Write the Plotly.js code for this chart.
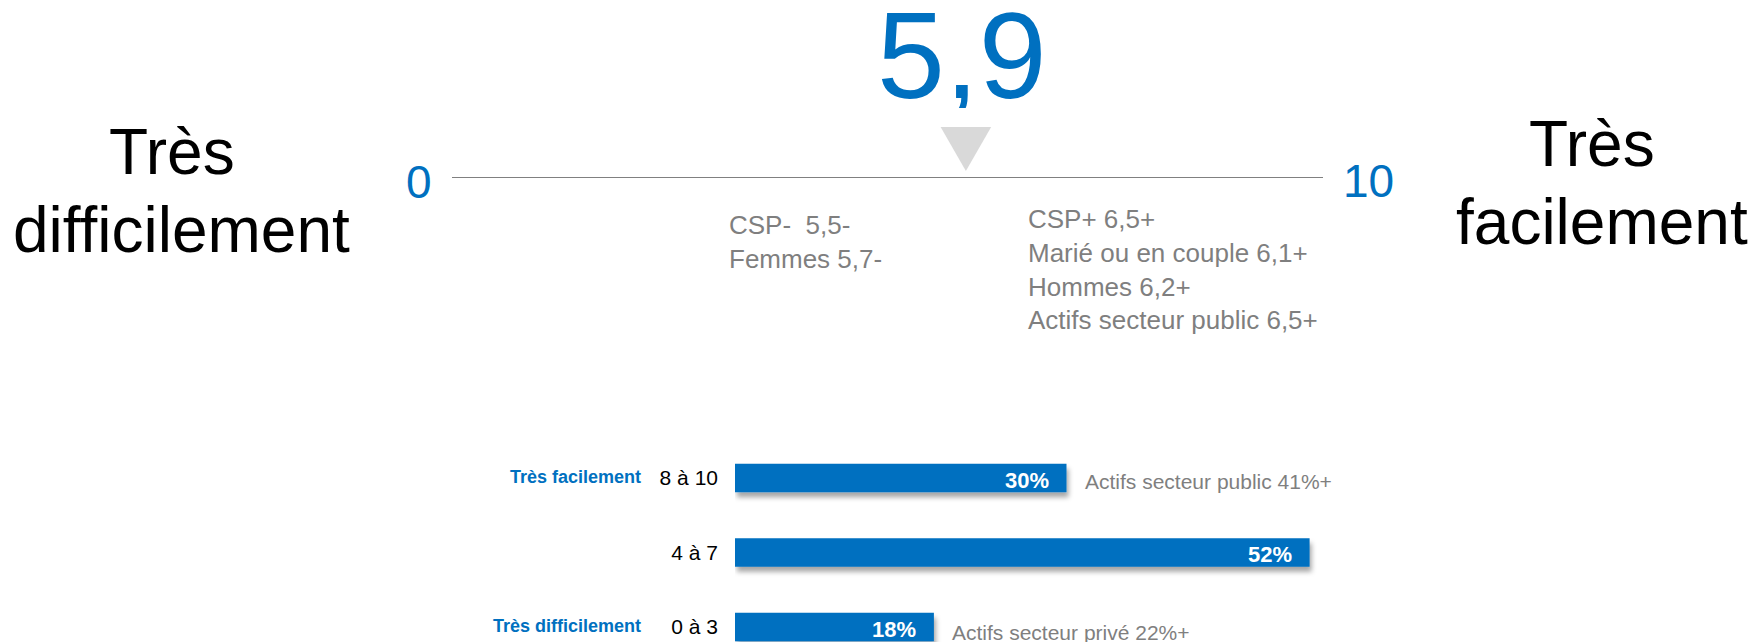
<!DOCTYPE html>
<html>
<head>
<meta charset="utf-8">
<script src="https://cdn.plot.ly/plotly-3.0.1.min.js"></script>
<style>
  html, body { margin: 0; padding: 0; background: #ffffff; }
  #chart { width: 1754px; height: 642px; }
  .barlayer .trace path { filter: url(#barShadow); }
</style>
</head>
<body>
<svg width="0" height="0" style="position:absolute">
  <defs>
    <filter id="barShadow" x="-5%" y="-40%" width="115%" height="200%">
      <feDropShadow dx="2" dy="5" stdDeviation="2.5" flood-color="#000000" flood-opacity="0.35"/>
    </filter>
  </defs>
</svg>
<div id="chart"></div>
<script>
// ---- data ----
const scaleMin = 0;
const scaleMax = 10;
const meanScore = 5.9;

const leftEndLabel = ["Très", "difficilement"];
const rightEndLabel = ["Très", "facilement"];

const lowGroups = ["CSP-\u00a0", "Femmes"];
const lowScores = [5.5, 5.7];
const highGroups = ["CSP+", "Marié ou en couple", "Hommes", "Actifs secteur public"];
const highScores = [6.5, 6.1, 6.2, 6.5];

const bandLabels = ["8 à 10", "4 à 7", "0 à 3"];
const bandShares = [30, 52, 18];
const bandNames = ["Très facilement", "", "Très difficilement"];
const bandNotes = ["Actifs secteur public 41%+", "", "Actifs secteur privé 22%+"];

// ---- styles ----
const FONT = "Liberation Sans, Arial, sans-serif";
const BLUE = "#0070C0";
const GREY = "#7f7f7f";
const W = 1754, H = 642;
const px = v => v / W;           // horizontal pixel -> paper
const py = v => 1 - v / H;       // vertical pixel -> paper
const fr = v => v.toFixed(1).replace(".", ",");

const triHalf = 0.29;            // half width of pointer, axis units

const traces = [
  { // scale line
    type: "scatter", mode: "lines", xaxis: "x", yaxis: "y",
    x: [scaleMin, scaleMax], y: [0, 0],
    line: { color: "#808080", width: 2 }, hoverinfo: "skip"
  },
  { // pointer triangle
    type: "scatter", mode: "lines", xaxis: "x", yaxis: "y",
    x: [meanScore - triHalf, meanScore + triHalf, meanScore, meanScore - triHalf],
    y: [1, 1, 0.137, 1],
    fill: "toself", fillcolor: "#d9d9d9", line: { width: 0, color: "#d9d9d9" },
    hoverinfo: "skip"
  },
  { // distribution bars
    type: "bar", orientation: "h", xaxis: "x2", yaxis: "y2",
    y: bandLabels, x: bandShares,
    marker: { color: BLUE, line: { width: 0 } },
    hoverinfo: "skip"
  }
];

const annotations = [];
// big mean value
annotations.push({
  xref: "x", yref: "paper", x: meanScore, y: py(56), xshift: -4,
  height: 104, valign: "middle",
  text: fr(meanScore), showarrow: false, xanchor: "center", yanchor: "middle",
  font: { family: FONT, size: 122, color: BLUE }
});
// scale ends
annotations.push({
  xref: "x", yref: "paper", x: scaleMin, y: py(182), xshift: -18,
  text: String(scaleMin), showarrow: false, xanchor: "right", yanchor: "middle",
  font: { family: FONT, size: 46, color: BLUE }
});
annotations.push({
  xref: "x", yref: "paper", x: scaleMax, y: py(181), xshift: 18,
  text: String(scaleMax), showarrow: false, xanchor: "left", yanchor: "middle",
  font: { family: FONT, size: 46, color: BLUE }
});
// end labels
const leftPos = [[172, 152], [181, 230]];
const rightPos = [[1592, 144], [1602, 222]];
leftEndLabel.forEach((t, i) => annotations.push({
  xref: "paper", yref: "paper", x: px(leftPos[i][0]), y: py(leftPos[i][1]),
  text: t, showarrow: false, xanchor: "center", yanchor: "middle",
  font: { family: FONT, size: 64, color: "#000000" }
}));
rightEndLabel.forEach((t, i) => annotations.push({
  xref: "paper", yref: "paper", x: px(rightPos[i][0]), y: py(rightPos[i][1]),
  text: t, showarrow: false, xanchor: "center", yanchor: "middle",
  font: { family: FONT, size: 64, color: "#000000" }
}));
// subgroup notes
annotations.push({
  xref: "paper", yref: "paper", x: px(727), y: py(242),
  text: lowGroups.map((g, i) => g + " " + fr(lowScores[i]) + "-").join("<br>"),
  showarrow: false, xanchor: "left", yanchor: "middle", align: "left",
  font: { family: FONT, size: 26, color: GREY }
});
annotations.push({
  xref: "paper", yref: "paper", x: px(1026), y: py(270),
  text: highGroups.map((g, i) => g + " " + fr(highScores[i]) + "+").join("<br>"),
  showarrow: false, xanchor: "left", yanchor: "middle", align: "left",
  font: { family: FONT, size: 26, color: GREY }
});
// bar section labels
bandLabels.forEach((lab, i) => {
  annotations.push({
    xref: "x2", yref: "y2", x: bandShares[i], y: lab, xshift: -16, yshift: -2,
    text: "<b>" + bandShares[i] + "%</b>", showarrow: false, xanchor: "right", yanchor: "middle",
    font: { family: FONT, size: 22, color: "#ffffff" }
  });
  if (bandNames[i]) annotations.push({
    xref: "paper", yref: "y2", x: px(643), y: lab, yshift: 1,
    text: "<b>" + bandNames[i] + "</b>", showarrow: false, xanchor: "right", yanchor: "middle",
    font: { family: FONT, size: 18, color: BLUE }
  });
  if (bandNotes[i]) annotations.push({
    xref: "x2", yref: "y2", x: bandShares[i], y: lab, xshift: 16, yshift: (i === 0 ? -3 : -5),
    text: bandNotes[i], showarrow: false, xanchor: "left", yanchor: "middle",
    font: { family: FONT, size: 21, color: GREY }
  });
});

const hidden = { showgrid: false, zeroline: false, showticklabels: false, showline: false, ticks: "", fixedrange: true };

const layout = {
  width: W, height: H,
  margin: { l: 0, r: 0, t: 0, b: 0, pad: 0 },
  paper_bgcolor: "#ffffff", plot_bgcolor: "rgba(0,0,0,0)",
  showlegend: false,
  font: { family: FONT },
  xaxis: Object.assign({}, hidden, { domain: [px(452), px(1323)], range: [scaleMin, scaleMax], anchor: "y" }),
  yaxis: Object.assign({}, hidden, { domain: [py(178), py(127)], range: [0, 1], anchor: "x" }),
  xaxis2: Object.assign({}, hidden, { domain: [px(735), px(735 + 663)], range: [0, 60], anchor: "y2" }),
  yaxis2: {
    domain: [0, py(440.75)], anchor: "x2",
    type: "category", categoryorder: "array", categoryarray: bandLabels,
    range: [2.201, -0.5],
    showgrid: false, zeroline: false, showline: false, ticks: "",
    ticklabelstandoff: 16,
    tickfont: { family: FONT, size: 21, color: "#000000" },
    fixedrange: true
  },
  bargap: 0.617,
  annotations: annotations
};

Plotly.newPlot("chart", traces, layout, { displayModeBar: false, staticPlot: true });
</script>
</body>
</html>
